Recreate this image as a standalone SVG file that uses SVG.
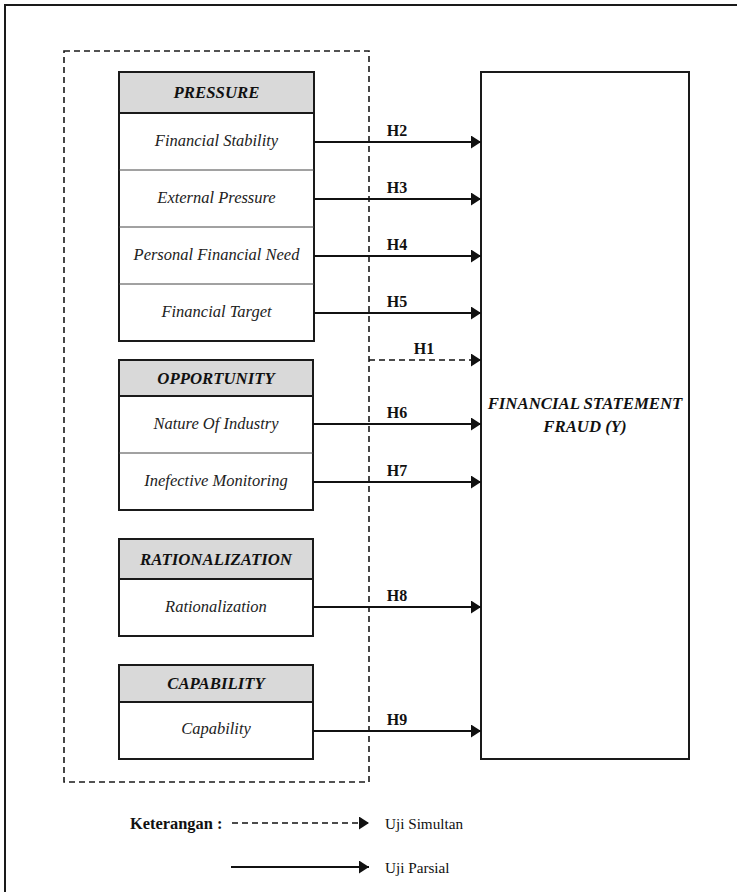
<svg xmlns="http://www.w3.org/2000/svg" width="737" height="892" viewBox="0 0 737 892">
<style>
.frame{fill:none;stroke:#1a1a1a;stroke-width:2}
.box{fill:#fff;stroke:#1a1a1a;stroke-width:2}
.hdr{fill:#d9d9d9;stroke:#1a1a1a;stroke-width:2}
.div{stroke:#444;stroke-width:1}
.dash{fill:none;stroke:#1a1a1a;stroke-width:1.6;stroke-dasharray:6,4}
.con{stroke:#111;stroke-width:2;fill:none}
.con-d{stroke:#111;stroke-width:1.6;fill:none;stroke-dasharray:6,4}
.ht{font-family:"Liberation Serif",serif;font-weight:bold;font-style:italic;font-size:16.8px;fill:#111;text-anchor:middle}
.it{font-family:"Liberation Serif",serif;font-style:italic;font-size:16.5px;fill:#222;text-anchor:middle}
.hl{font-family:"Liberation Serif",serif;font-weight:bold;font-size:16px;fill:#111;text-anchor:middle}
.lg{font-family:"Liberation Serif",serif;font-size:15.2px;fill:#111}
.lgb{font-family:"Liberation Serif",serif;font-weight:bold;font-size:16.4px;fill:#111}
</style>
<defs>
<marker id="ah" markerUnits="userSpaceOnUse" markerWidth="12" markerHeight="14" refX="10" refY="6.5" orient="auto">
<path d="M0,0 L10,6.5 L0,13 z" fill="#111"/>
</marker>
</defs>
<rect x="0" y="0" width="737" height="892" fill="#fff"/>
<rect class="frame" x="5" y="5" width="745" height="900"/>
<rect id="group-box" class="dash" x="64" y="51" width="305" height="731"/>

<g id="pressure">
<rect class="box" x="119" y="72" width="195" height="269"/>
<rect class="hdr" x="119" y="72" width="195" height="41"/>
<line class="div" x1="119" y1="170" x2="314" y2="170"/>
<line class="div" x1="119" y1="227" x2="314" y2="227"/>
<line class="div" x1="119" y1="284" x2="314" y2="284"/>
<text class="ht" x="216.5" y="98">PRESSURE</text>
<text class="it" x="216.5" y="146">Financial Stability</text>
<text class="it" x="216.5" y="203">External Pressure</text>
<text class="it" x="216.5" y="260">Personal Financial Need</text>
<text class="it" x="216.5" y="317">Financial Target</text>
</g>

<g id="opportunity">
<rect class="box" x="119" y="360" width="194" height="150"/>
<rect class="hdr" x="119" y="360" width="194" height="36"/>
<line class="div" x1="119" y1="453" x2="313" y2="453"/>
<text class="ht" x="216" y="384">OPPORTUNITY</text>
<text class="it" x="216" y="429">Nature Of Industry</text>
<text class="it" x="216" y="486">Inefective Monitoring</text>
</g>

<g id="rationalization">
<rect class="box" x="119" y="539" width="194" height="97"/>
<rect class="hdr" x="119" y="539" width="194" height="40"/>
<text class="ht" x="216" y="565">RATIONALIZATION</text>
<text class="it" x="216" y="612">Rationalization</text>
</g>

<g id="capability">
<rect class="box" x="119" y="665" width="194" height="94"/>
<rect class="hdr" x="119" y="665" width="194" height="37"/>
<text class="ht" x="216" y="689">CAPABILITY</text>
<text class="it" x="216" y="734">Capability</text>
</g>

<g id="fraud">
<rect class="box" x="481" y="72" width="208" height="687"/>
<text class="ht" x="585" y="409">FINANCIAL STATEMENT</text>
<text class="ht" x="585" y="432">FRAUD (Y)</text>
</g>

<g id="connectors">
<line class="con" x1="314" y1="142" x2="481" y2="142" marker-end="url(#ah)"/>
<line class="con" x1="314" y1="199" x2="481" y2="199" marker-end="url(#ah)"/>
<line class="con" x1="314" y1="256" x2="481" y2="256" marker-end="url(#ah)"/>
<line class="con" x1="314" y1="313" x2="481" y2="313" marker-end="url(#ah)"/>
<line class="con-d" x1="369" y1="360" x2="481" y2="360" marker-end="url(#ah)"/>
<line class="con" x1="313" y1="424" x2="481" y2="424" marker-end="url(#ah)"/>
<line class="con" x1="313" y1="482" x2="481" y2="482" marker-end="url(#ah)"/>
<line class="con" x1="313" y1="607" x2="481" y2="607" marker-end="url(#ah)"/>
<line class="con" x1="313" y1="731" x2="481" y2="731" marker-end="url(#ah)"/>
<text class="hl" x="397" y="136">H2</text>
<text class="hl" x="397" y="193">H3</text>
<text class="hl" x="397" y="250">H4</text>
<text class="hl" x="397" y="307">H5</text>
<text class="hl" x="424" y="354">H1</text>
<text class="hl" x="397" y="418">H6</text>
<text class="hl" x="397" y="476">H7</text>
<text class="hl" x="397" y="601">H8</text>
<text class="hl" x="397" y="725">H9</text>
</g>

<g id="legend">
<text class="lgb" x="130" y="829">Keterangan :</text>
<line class="con-d" x1="232" y1="823" x2="369" y2="823" marker-end="url(#ah)"/>
<text class="lg" x="385" y="829">Uji Simultan</text>
<line class="con" x1="231" y1="867" x2="369" y2="867" marker-end="url(#ah)"/>
<text class="lg" x="385" y="873">Uji Parsial</text>
</g>
</svg>
